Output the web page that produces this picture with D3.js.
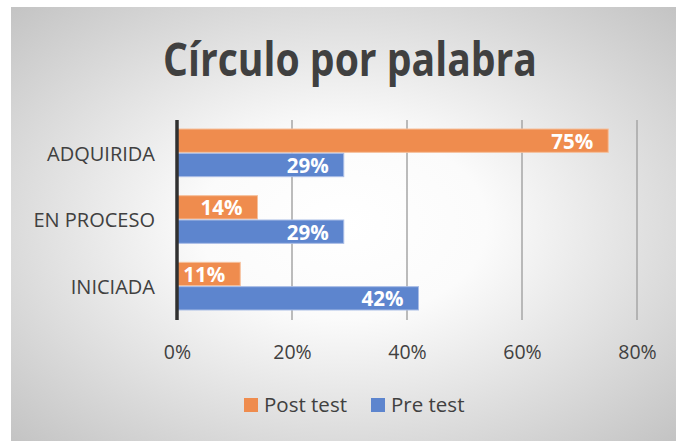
<!DOCTYPE html>
<html>
<head>
<meta charset="utf-8">
<script src="https://cdn.jsdelivr.net/npm/d3@7"></script>
<style>
  body { margin: 0; background: #fff; }
  svg { display: block; font-family: "Open Sans", sans-serif; }
</style>
</head>
<body>
<svg id="chart"></svg>
<script>
const categories = ["ADQUIRIDA", "EN PROCESO", "INICIADA"];
const seriesNames = ["Post test", "Pre test"];
const postTest = [75, 14, 11];
const preTest = [29, 29, 42];
const xTicks = [0, 20, 40, 60, 80];
const colors = ["#EF8C4E", "#5D85CE"];

const width = 676, height = 441;
const svg = d3.select("#chart").attr("width", width).attr("height", height);

// background with soft radial shading
const defs = svg.append("defs");
const grad = defs.append("radialGradient").attr("id", "bg")
  .attr("cx", "50%").attr("cy", "50%").attr("r", "72%");
grad.append("stop").attr("offset", "0%").attr("stop-color", "#ffffff");
grad.append("stop").attr("offset", "30%").attr("stop-color", "#fbfbfb");
grad.append("stop").attr("offset", "100%").attr("stop-color", "#c2c2c2");

svg.append("rect")
  .attr("x", 11).attr("y", 7)
  .attr("width", width - 11).attr("height", height - 7)
  .attr("fill", "url(#bg)");

// title
svg.append("text")
  .attr("x", 350).attr("y", 76)
  .attr("text-anchor", "middle")
  .attr("font-size", 46).attr("font-weight", "bold")
  .attr("fill", "#404040")
  .attr("textLength", 374).attr("lengthAdjust", "spacingAndGlyphs")
  .text("Círculo por palabra");

const margin = { left: 177, top: 120, right: 39, bottom: 121 };
const x = d3.scaleLinear().domain([0, 80]).range([margin.left, width - margin.right]);
const y = d3.scaleBand().domain(categories).range([margin.top, height - margin.bottom]).paddingInner(0.27).paddingOuter(0.135);
const sub = d3.scaleBand().domain(seriesNames).range([0, y.bandwidth()]);

// gridlines
svg.append("g")
  .selectAll("line")
  .data(xTicks.slice(1))
  .join("line")
  .attr("x1", d => x(d)).attr("x2", d => x(d))
  .attr("y1", margin.top).attr("y2", height - margin.bottom)
  .attr("stroke", "#a6a6a6").attr("stroke-width", 1.5);

// x axis labels
const xAxis = svg.append("g")
  .attr("transform", `translate(0,${height - margin.bottom})`)
  .call(d3.axisBottom(x).tickValues(xTicks).tickFormat(d => d + "%").tickSize(0).tickPadding(25));
xAxis.select(".domain").remove();
xAxis.selectAll("text").attr("font-size", 19.5).attr("fill", "#404040").attr("font-family", "Open Sans, sans-serif");

// bars
const rows = categories.map((c, i) => ({ cat: c, values: [postTest[i], preTest[i]] }));
const groups = svg.append("g").selectAll("g")
  .data(rows)
  .join("g")
  .attr("transform", d => `translate(0,${y(d.cat)})`);

groups.selectAll("rect")
  .data(d => d.values.map((v, j) => ({ name: seriesNames[j], v, j })))
  .join("rect")
  .attr("x", x(0))
  .attr("y", d => sub(d.name))
  .attr("width", d => x(d.v) - x(0))
  .attr("height", sub.bandwidth() - 1)
  .attr("fill", d => colors[d.j])
  .attr("stroke", d => d.j === 0 ? "#f6c09c" : "#a9bde6")
  .attr("stroke-width", 1);

groups.selectAll("text")
  .data(d => d.values.map((v, j) => ({ name: seriesNames[j], v, j })))
  .join("text")
  .attr("x", d => x(d.v) - 15)
  .attr("y", d => sub(d.name) + sub.bandwidth() / 2)
  .attr("dy", "0.37em")
  .attr("text-anchor", "end")
  .attr("font-size", 20.5).attr("font-weight", "bold")
  .attr("fill", "#ffffff")
  .text(d => d.v + "%");

// category labels
svg.append("g").selectAll("text")
  .data(categories)
  .join("text")
  .attr("x", 155)
  .attr("y", d => y(d) + y.bandwidth() / 2)
  .attr("dy", "0.36em")
  .attr("text-anchor", "end")
  .attr("font-size", 20)
  .attr("fill", "#404040")
  .text(d => d);

// vertical axis line
svg.append("line")
  .attr("x1", x(0)).attr("x2", x(0))
  .attr("y1", margin.top).attr("y2", height - margin.bottom)
  .attr("stroke", "#303030").attr("stroke-width", 3.5);

// legend
const legend = svg.append("g").attr("transform", "translate(244,405)");
const legendX = [0, 127];
seriesNames.forEach((name, i) => {
  const g = legend.append("g").attr("transform", `translate(${legendX[i]},0)`);
  g.append("rect").attr("x", 0).attr("y", -7).attr("width", 14).attr("height", 14).attr("fill", colors[i]);
  g.append("text").attr("x", 20).attr("dy", "0.36em")
    .attr("font-size", 20.5).attr("fill", "#404040").text(name);
});
</script>
</body>
</html>
